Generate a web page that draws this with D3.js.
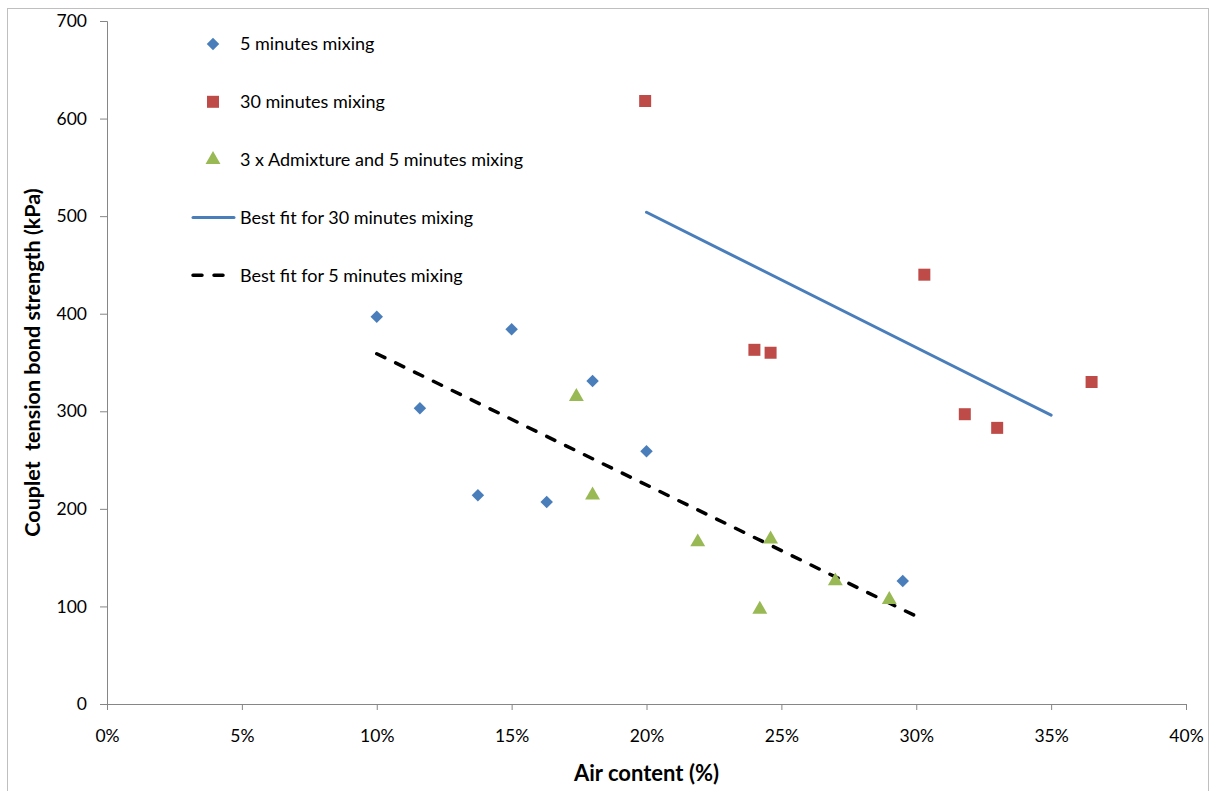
<!DOCTYPE html>
<html>
<head>
<meta charset="utf-8">
<script src="https://cdn.jsdelivr.net/npm/d3@7"></script>
<style>
  body { margin: 0; background: #fff; }
  text { font-family: Lato, "Open Sans", sans-serif; fill: #000; }
  .axis path, .axis line { stroke: #868686; }
</style>
</head>
<body>
<div id="plot"></div>
<script>
// values
const MIX5_X = [10.0, 11.6, 13.75, 15.0, 16.3, 18.0, 20.0, 29.5];
const MIX5_Y = [397, 303, 214, 384, 207, 331, 259, 126];

const MIX30_X = [19.95, 24.0, 24.6, 30.3, 31.8, 33.0, 36.5];
const MIX30_Y = [618, 363, 360, 440, 297, 283, 330];

const ADMIX_X = [17.4, 18.0, 21.9, 24.6, 24.2, 27.0, 29.0];
const ADMIX_Y = [315, 214, 166, 169, 97, 126, 107];

const FIT30_X = [20, 35];
const FIT30_Y = [504, 296];
const FIT5_X = [10, 30];
const FIT5_Y = [359, 90];

const X_TICKS = [0, 5, 10, 15, 20, 25, 30, 35, 40];
const Y_TICKS = [0, 100, 200, 300, 400, 500, 600, 700];

const LEGEND_LABELS = ["5 minutes mixing", "30 minutes mixing", "3 x Admixture and 5 minutes mixing",
  "Best fit for 30 minutes mixing", "Best fit for 5 minutes mixing"];

const BLUE = "#4a7ebb", RED = "#be4b48", GREEN = "#98b954";

const WIDTH = 1214, HEIGHT = 791;
const M = {left: 107, top: 21, right: 1186, bottom: 704};

const svg = d3.select("#plot").append("svg")
  .attr("width", WIDTH).attr("height", HEIGHT);

// outer chart border
svg.append("rect")
  .attr("x", 7.5).attr("y", 8.5).attr("width", 1201).attr("height", 800)
  .attr("fill", "none").attr("stroke", "#bfbfbf");

const x = d3.scaleLinear().domain([0, 40]).range([M.left, M.right]);
const y = d3.scaleLinear().domain([0, 700]).range([M.bottom, M.top]);

// axes
svg.append("g").attr("class", "axis")
  .attr("transform", `translate(0,${M.bottom})`)
  .call(d3.axisBottom(x).tickValues(X_TICKS).tickSize(6).tickPadding(20)
    .tickFormat(d => d + "%"));
svg.append("g").attr("class", "axis")
  .attr("transform", `translate(${M.left},0)`)
  .call(d3.axisLeft(y).tickValues(Y_TICKS).tickSize(7).tickPadding(13));
svg.selectAll(".axis text").style("font-size", "17.5px").attr("fill", "#000")
  .style("font-family", "Lato, sans-serif");

// axis titles
svg.append("text")
  .attr("x", x(20)).attr("y", 781)
  .attr("text-anchor", "middle")
  .style("font-size", "22px").style("font-weight", "bold")
  .text("Air content (%)");
svg.append("text")
  .attr("transform", `translate(40,${(M.top + M.bottom) / 2}) rotate(-90)`)
  .attr("text-anchor", "middle")
  .style("font-size", "21.5px").style("font-weight", "bold")
  .style("white-space", "pre")
  .text("Couplet  tension bond strength (kPa)");

// best fit lines
const line = d3.line().x(d => x(d[0])).y(d => y(d[1]));
svg.append("path")
  .datum(d3.zip(FIT30_X, FIT30_Y))
  .attr("d", line).attr("fill", "none")
  .attr("stroke", BLUE).attr("stroke-width", 3).attr("stroke-linecap", "round");
svg.append("path")
  .datum(d3.zip(FIT5_X, FIT5_Y))
  .attr("d", line).attr("fill", "none")
  .attr("stroke", "#000").attr("stroke-width", 3.5)
  .attr("stroke-dasharray", "9,12").attr("stroke-linecap", "round");

// markers
const diamond = d3.symbol().type(d3.symbolSquare).size(78);
const square = d3.symbol().type(d3.symbolSquare).size(144);
const triangle = d3.symbol().type(d3.symbolTriangle).size(96);

svg.append("g").selectAll("path")
  .data(d3.zip(MIX5_X, MIX5_Y)).join("path")
  .attr("d", diamond)
  .attr("transform", d => `translate(${x(d[0])},${y(d[1])}) rotate(45)`)
  .attr("fill", BLUE);

svg.append("g").selectAll("path")
  .data(d3.zip(MIX30_X, MIX30_Y)).join("path")
  .attr("d", square)
  .attr("transform", d => `translate(${x(d[0])},${y(d[1])})`)
  .attr("fill", RED);

svg.append("g").selectAll("path")
  .data(d3.zip(ADMIX_X, ADMIX_Y)).join("path")
  .attr("d", triangle)
  .attr("transform", d => `translate(${x(d[0])},${y(d[1])})`)
  .attr("fill", GREEN);

// legend
const LEG_X = 213, LEG_Y0 = 44, LEG_DY = 57.8;
const legend = svg.append("g");
LEGEND_LABELS.forEach((label, i) => {
  const ly = LEG_Y0 + i * LEG_DY;
  if (i === 0) legend.append("path").attr("d", diamond)
    .attr("transform", `translate(${LEG_X},${ly}) rotate(45)`).attr("fill", BLUE);
  if (i === 1) legend.append("path").attr("d", square)
    .attr("transform", `translate(${LEG_X},${ly})`).attr("fill", RED);
  if (i === 2) legend.append("path").attr("d", triangle)
    .attr("transform", `translate(${LEG_X},${ly})`).attr("fill", GREEN);
  if (i === 3) legend.append("line")
    .attr("x1", 193).attr("x2", 234).attr("y1", ly).attr("y2", ly)
    .attr("stroke", BLUE).attr("stroke-width", 3).attr("stroke-linecap", "round");
  if (i === 4) legend.append("line")
    .attr("x1", 193).attr("x2", 234).attr("y1", ly).attr("y2", ly)
    .attr("stroke", "#000").attr("stroke-width", 3.5)
    .attr("stroke-dasharray", "9,12").attr("stroke-linecap", "round");
  legend.append("text")
    .attr("x", 240).attr("y", ly).attr("dy", "0.35em")
    .style("font-size", "18px")
    .text(label);
});
</script>
</body>
</html>
